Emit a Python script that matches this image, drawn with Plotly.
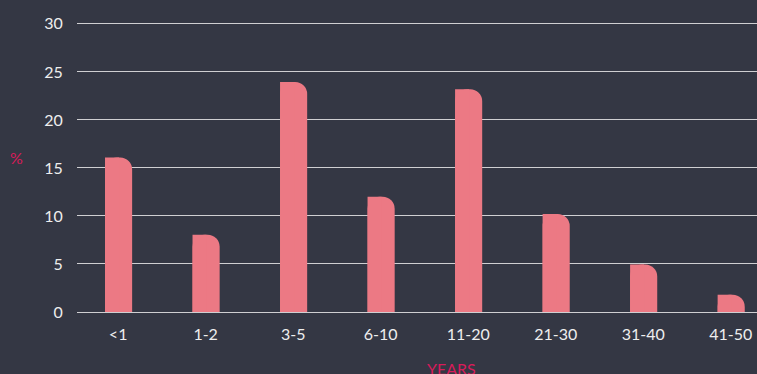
import plotly.graph_objects as go

categories = ["<1", "1-2", "3-5", "6-10", "11-20", "21-30", "31-40", "41-50"]
values = [16.1, 8.05, 23.95, 12.0, 23.2, 10.2, 4.95, 1.8]
y_ticks = [0, 5, 10, 15, 20, 25, 30]

BG = "#343744"
BAR = "#ec7984"
TITLE = "#d81b5a"
TICK = "#eeeeee"
GRID = "#cfcfd2"
FONT = "Lato, 'Open Sans', sans-serif"

fig = go.Figure()
# full-width bar with rounded top corners
fig.add_trace(go.Bar(x=categories, y=values, width=0.31, offset=-0.15,
                     marker=dict(color=BAR, cornerradius=12, line=dict(width=0)),
                     hoverinfo="x+y"))
# left half, square corners -> only the top-right corner stays rounded
fig.add_trace(go.Bar(x=categories, y=values, width=0.16, offset=-0.15,
                     marker=dict(color=BAR, line=dict(width=0)),
                     hoverinfo="skip"))

T, B = 21, 62
fig.update_layout(
    width=757, height=374,
    paper_bgcolor=BG, plot_bgcolor=BG,
    barmode="overlay",
    showlegend=False,
    margin=dict(l=77, r=0, t=T, b=B),
    font=dict(family=FONT, size=16, color=TICK),
    xaxis=dict(range=[-0.47, 7.3], showgrid=False, zeroline=False, showline=False,
               ticks="outside", ticklen=8, tickcolor="rgba(0,0,0,0)",
               tickfont=dict(size=16, color=TICK)),
    yaxis=dict(range=[0, 30.3], tickvals=y_ticks, showgrid=True, gridcolor=GRID, gridwidth=1,
               zeroline=True, zerolinecolor=GRID, zerolinewidth=1, showline=False,
               ticks="outside", ticklen=10, tickcolor="rgba(0,0,0,0)",
               tickfont=dict(size=16, color=TICK)),
    annotations=[
        dict(text="%", x=0, y=0, xref="paper", yref="paper", showarrow=False,
             xanchor="center", yanchor="middle",
             font=dict(size=16, color=TITLE, family=FONT)),
        dict(text="YEARS", x=0, y=0, xref="paper", yref="paper", showarrow=False,
             xanchor="center", yanchor="middle",
             font=dict(size=16, color=TITLE, family=FONT)),
    ],
)
# position titles in pixel-equivalent paper coords
plot_w = 757 - 77
plot_h = 374 - T - B
fig.layout.annotations[0].update(x=(16 - 77) / plot_w, y=(374 - B - 157) / plot_h)
fig.layout.annotations[1].update(x=(451 - 77) / plot_w, y=(374 - B - 368) / plot_h)

fig.write_html("out.html")
